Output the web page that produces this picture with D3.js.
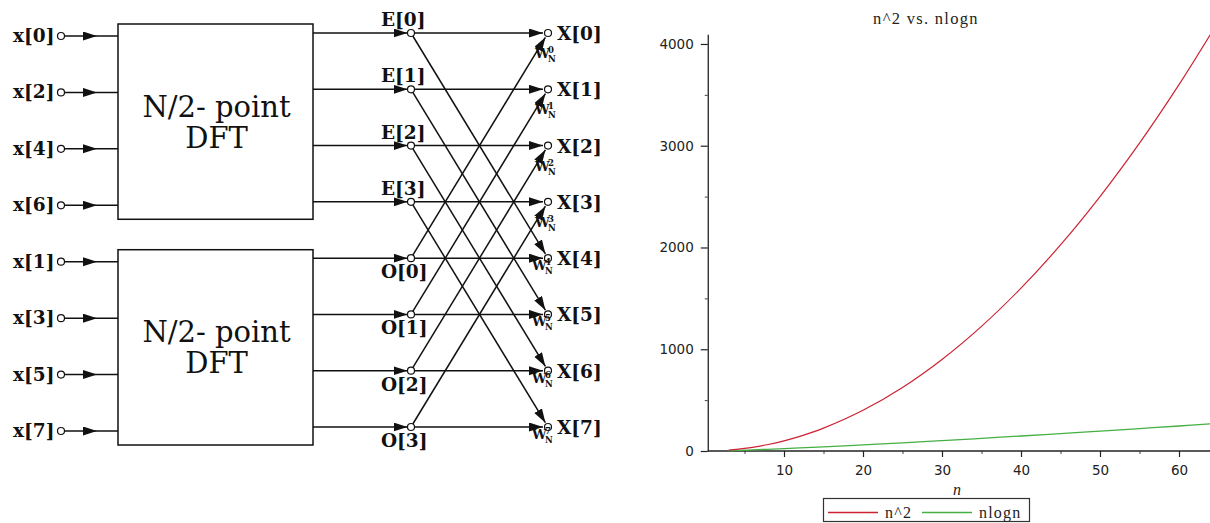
<!DOCTYPE html>
<html><head><meta charset="utf-8">
<script src="https://cdn.jsdelivr.net/npm/d3@7"></script>
<style>body{margin:0;background:#fff}svg{display:block}</style>
</head><body><svg id="c" width="1210" height="523"></svg>
<script>
// ---------- Left: radix-2 butterfly diagram (labels) ----------
const evenInputs = ["x[0]", "x[2]", "x[4]", "x[6]"];
const oddInputs = ["x[1]", "x[3]", "x[5]", "x[7]"];
const evenOutputs = ["E[0]", "E[1]", "E[2]", "E[3]"];
const oddOutputs = ["O[0]", "O[1]", "O[2]", "O[3]"];
const finalOutputs = ["X[0]", "X[1]", "X[2]", "X[3]", "X[4]", "X[5]", "X[6]", "X[7]"];
const twiddleExp = ["0", "1", "2", "3", "4", "5", "6", "7"];
const boxTitle = ["N/2- point", "DFT"];

// ---------- Right: n^2 vs n log n ----------
const chartTitle = "n^2 vs. nlogn";
const nValues = [3, 4, 5, 6, 8, 10, 12, 15, 20, 25, 30, 35, 40, 45, 50, 55, 60, 64];
const nSquared = [9, 16, 25, 36, 64, 100, 144, 225, 400, 625, 900, 1225, 1600, 2025, 2500, 3025, 3600, 4096];
const nLogN = [3.3, 5.5, 8, 10.8, 16.6, 23, 29.8, 40.6, 59.9, 80.5, 102, 124.4, 147.6, 171.3, 195.6, 220.4, 245.7, 266.2];
const seriesNames = ["n^2", "nlogn"];
const xTicks = [10, 20, 30, 40, 50, 60];
const xMinorTicks = [5, 15, 25, 35, 45, 55];
const yTicks = [0, 1000, 2000, 3000, 4000];
const yMinorTicks = [500, 1500, 2500, 3500];
const xLabel = "n";

const RED = "#cc2233", GREEN = "#44b044", INK = "#111";

const svg = d3.select("#c");
svg.append("rect").attr("width", 1210).attr("height", 523).attr("fill", "#fff");

const defs = svg.append("defs");
defs.append("marker").attr("id", "arr").attr("markerUnits", "userSpaceOnUse")
  .attr("markerWidth", 16).attr("markerHeight", 10).attr("refX", 14).attr("refY", 4.5)
  .attr("orient", "auto")
  .append("path").attr("d", "M0,0L14,4.5L0,9z").attr("fill", INK);

// ======== LEFT DIAGRAM ========
const L = svg.append("g");
const rowIn = d3.scaleLinear().domain([0, 7]).range([36, 431]);
const rowNode = d3.scaleLinear().domain([0, 7]).range([33, 427]);
const col = d3.scaleOrdinal()
  .domain(["label", "inNode", "inTip", "boxL", "boxR", "node", "xNode", "xLabel"])
  .range([13, 61, 97, 118, 313, 411, 548, 557]);
const R = 3.5;
const labelFont = "'DejaVu Serif', serif";
const LBL = 18.5;

const groups = [
  {inputs: evenInputs, outputs: evenOutputs, offset: 0, above: true},
  {inputs: oddInputs, outputs: oddOutputs, offset: 4, above: false}
];

groups.forEach(gr => {
  const top = rowIn(gr.offset) - 12, bot = rowIn(gr.offset + 3) + 14;
  L.append("rect").attr("x", col("boxL")).attr("y", top)
    .attr("width", col("boxR") - col("boxL")).attr("height", bot - top)
    .attr("fill", "none").attr("stroke", INK).attr("stroke-width", 1.5);
  const cy = (top + bot) / 2;
  boxTitle.forEach((t, i) => {
    L.append("text").attr("x", (col("boxL") + col("boxR")) / 2 + 1).attr("y", cy - 5 + i * 31)
      .attr("text-anchor", "middle").attr("font-family", labelFont)
      .attr("font-size", 29).attr("fill", INK).text(t);
  });
  gr.inputs.forEach((lab, i) => {
    const y = rowIn(gr.offset + i);
    L.append("text").attr("x", col("label")).attr("y", y + 6)
      .attr("font-family", labelFont).attr("font-weight", "bold").attr("font-size", LBL)
      .attr("fill", INK).text(lab);
    L.append("circle").attr("cx", col("inNode")).attr("cy", y).attr("r", R)
      .attr("fill", "#fff").attr("stroke", INK).attr("stroke-width", 1.2);
    L.append("path").attr("d", d3.line()([[col("inNode") + R, y], [col("inTip"), y], [col("boxL"), y]]))
      .attr("stroke", INK).attr("stroke-width", 1.5).attr("fill", "none")
      .attr("marker-mid", "url(#arr)");
  });
  gr.outputs.forEach((lab, i) => {
    const k = gr.offset + i;
    const y = rowNode(k);
    L.append("line").attr("x1", col("boxR")).attr("x2", col("node") - R).attr("y1", y).attr("y2", y)
      .attr("stroke", INK).attr("stroke-width", 1.5).attr("marker-end", "url(#arr)");
    L.append("text").attr("x", col("node") - 30).attr("y", gr.above ? y - 7 : y + 20)
      .attr("font-family", labelFont).attr("font-weight", "bold").attr("font-size", LBL)
      .attr("fill", INK).text(lab);
  });
});

// butterfly edges
function edge(k0, k1) {
  const x0 = col("node"), y0 = rowNode(k0), x1 = col("xNode"), y1 = rowNode(k1);
  const dx = x1 - x0, dy = y1 - y0, len = Math.hypot(dx, dy);
  const ux = dx / len, uy = dy / len;
  L.append("line").attr("x1", x0 + ux * R).attr("y1", y0 + uy * R)
    .attr("x2", x1 - ux * (R + 1.5)).attr("y2", y1 - uy * (R + 1.5))
    .attr("stroke", INK).attr("stroke-width", 1.5).attr("marker-end", "url(#arr)");
}
for (let i = 0; i < 4; i++) {
  edge(i, i);           // E[i] -> X[i]
  edge(i, i + 4);       // E[i] -> X[i+4]
  edge(i + 4, i);       // O[i] -> X[i]
  edge(i + 4, i + 4);   // O[i] -> X[i+4]
}
// nodes
d3.range(8).forEach(k => {
  L.append("circle").attr("cx", col("node")).attr("cy", rowNode(k)).attr("r", R)
    .attr("fill", "#fff").attr("stroke", INK).attr("stroke-width", 1.2);
  L.append("circle").attr("cx", col("xNode")).attr("cy", rowNode(k)).attr("r", R)
    .attr("fill", "#fff").attr("stroke", INK).attr("stroke-width", 1.2);
});
finalOutputs.forEach((lab, k) => {
  const y = rowNode(k);
  L.append("text").attr("x", col("xLabel")).attr("y", y + 7)
    .attr("font-family", labelFont).attr("font-weight", "bold").attr("font-size", LBL)
    .attr("fill", INK).text(lab);
  const upper = k < 4;
  const wx = upper ? 535 : 532, wy = upper ? y + 25 : y + 12;
  const W = L.append("g").attr("font-family", labelFont).attr("font-weight", "bold").attr("fill", INK);
  W.append("text").attr("x", wx).attr("y", wy).attr("font-size", 13).text("W");
  W.append("text").attr("x", wx + 13).attr("y", wy - 5).attr("font-size", 8.5).text(twiddleExp[k]);
  W.append("text").attr("x", wx + 13).attr("y", wy + 4).attr("font-size", 8.5).text("N");
});

// ======== RIGHT CHART ========
const C = svg.append("g");
const x = d3.scaleLinear().domain([0, 64]).range([705, 1210.6]);
const y = d3.scaleLinear().domain([0, 4096]).range([451, 34.2]);
const axisX = x(0.35);
const tickFont = "'DejaVu Sans', sans-serif";

// y axis
const yAx = C.append("g").attr("transform", `translate(${axisX},0)`)
  .call(d3.axisLeft(y).tickValues(yTicks).tickSize(7).tickSizeOuter(0).tickPadding(7).tickFormat(d3.format("d")));
const yMin = C.append("g").attr("transform", `translate(${axisX},0)`)
  .call(d3.axisLeft(y).tickValues(yMinorTicks).tickSize(3).tickSizeOuter(0).tickFormat(""));
yMin.select(".domain").remove();
// x axis
const xAx = C.append("g").attr("transform", `translate(0,${y(0)})`)
  .call(d3.axisBottom(x).tickValues(xTicks).tickSize(6).tickSizeOuter(0).tickPadding(8));
xAx.select(".domain").remove();
const xMin = C.append("g").attr("transform", `translate(0,${y(0)})`)
  .call(d3.axisBottom(x).tickValues(xMinorTicks).tickSize(3).tickSizeOuter(0).tickFormat(""));
xMin.select(".domain").remove();
C.append("line").attr("x1", axisX).attr("x2", 1210).attr("y1", y(0)).attr("y2", y(0))
  .attr("stroke", "#222").attr("stroke-width", 1.3);
[yAx, xAx].forEach(a => {
  a.selectAll("text").attr("font-family", tickFont).attr("font-size", 13.5).attr("fill", "#222");
  a.selectAll("line").attr("stroke", "#222").attr("stroke-width", 1.2);
  a.select(".domain").attr("stroke", "#222").attr("stroke-width", 1.3);
});
[yMin, xMin].forEach(a => a.selectAll("line").attr("stroke", "#444").attr("stroke-width", 1));

// lines
const lineGen = vals => d3.line().x((d, i) => x(nValues[i])).y(d => y(d)).curve(d3.curveCatmullRom)(vals);
C.append("path").attr("d", lineGen(nLogN)).attr("fill", "none").attr("stroke", GREEN).attr("stroke-width", 1.3);
C.append("path").attr("d", lineGen(nSquared)).attr("fill", "none").attr("stroke", RED).attr("stroke-width", 1.2);

// title & axis label
C.append("text").attr("x", 926).attr("y", 24).attr("text-anchor", "middle")
  .attr("font-family", "'Liberation Serif', serif").attr("font-size", 16.5).attr("letter-spacing", 1.3)
  .attr("fill", "#222").text(chartTitle);
C.append("text").attr("x", 957).attr("y", 495).attr("text-anchor", "middle")
  .attr("font-family", "'Liberation Serif', serif").attr("font-style", "italic").attr("font-size", 16)
  .attr("fill", "#222").text(xLabel);

// legend
const lg = C.append("g");
lg.append("rect").attr("x", 823.5).attr("y", 498.5).attr("width", 206).attr("height", 23)
  .attr("fill", "#fff").attr("stroke", "#333").attr("stroke-width", 1.2);
const legendX = [828, 922];
[RED, GREEN].forEach((c, i) => {
  lg.append("line").attr("x1", legendX[i]).attr("x2", legendX[i] + 50).attr("y1", 512.5).attr("y2", 512.5)
    .attr("stroke", c).attr("stroke-width", 1.3);
  lg.append("text").attr("x", legendX[i] + 57).attr("y", 518)
    .attr("font-family", "'Liberation Serif', serif").attr("font-size", 16).attr("letter-spacing", 1.2)
    .attr("fill", "#222").text(seriesNames[i]);
});
</script></body></html>
